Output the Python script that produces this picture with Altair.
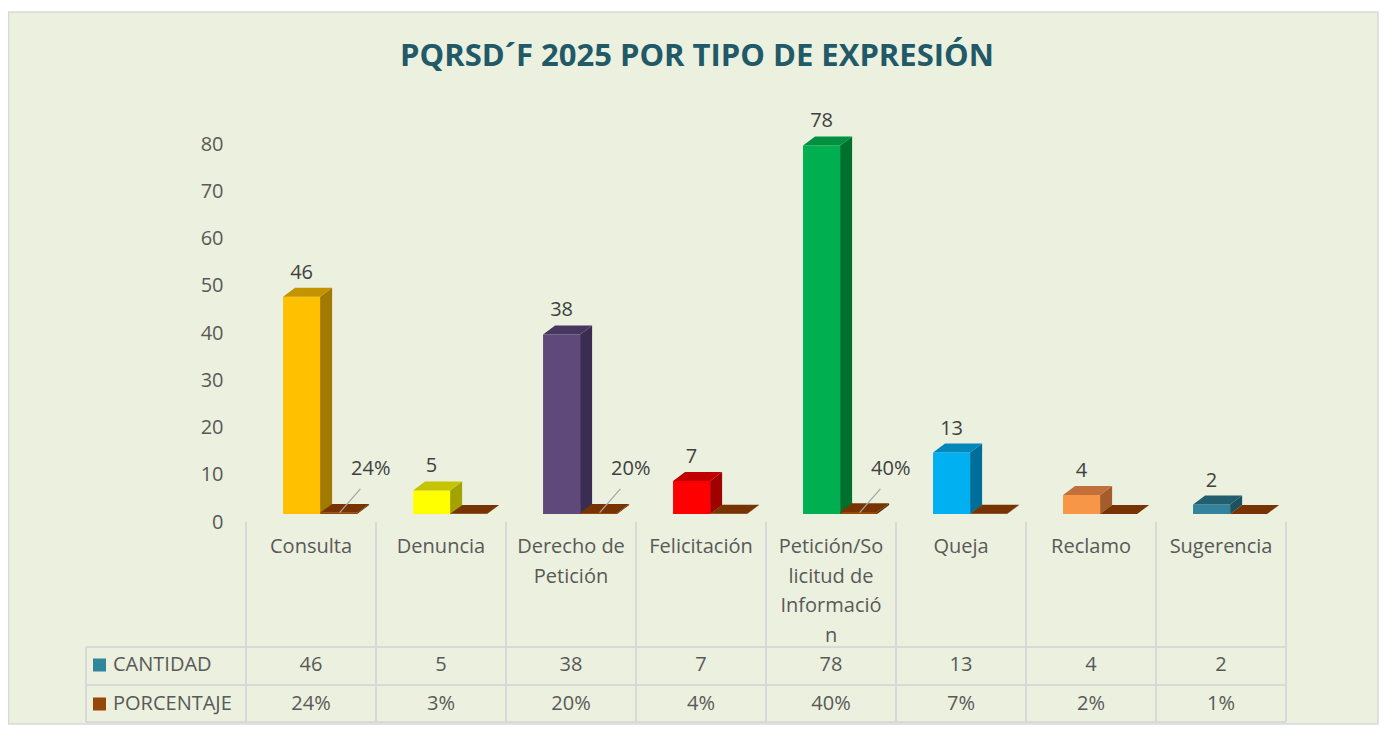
import altair as alt
import pandas as pd

# ---------------- data ----------------
categories = ["Consulta", "Denuncia", "Derecho de Petición", "Felicitación",
              "Petición/Solicitud de Información", "Queja", "Reclamo", "Sugerencia"]
axis_labels = ["Consulta", "Denuncia", "Derecho de\nPetición", "Felicitación",
               "Petición/So\nlicitud de\nInformació\nn", "Queja", "Reclamo", "Sugerencia"]
cantidad = [46, 5, 38, 7, 78, 13, 4, 2]
porcentaje = [24, 3, 20, 4, 40, 7, 2, 1]
series_names = ["CANTIDAD", "PORCENTAJE"]

front_colors = ["#FFC000", "#FFFF00", "#5F497A", "#FF0000", "#00B050", "#00B0F0", "#F79646", "#31849B"]
top_colors = ["#C49300", "#C4C400", "#463660", "#C00000", "#00903F", "#0088BC", "#C2703A", "#215F6E"]
side_colors = ["#A27A00", "#A3A300", "#3B2D52", "#A00000", "#00702F", "#006E9A", "#A35C2A", "#1C5260"]
pct_front, pct_top, pct_side = "#974706", "#783400", "#5E2A00"
legend_colors = ["#31859C", "#974706"]

BG = "#EBF1DE"
TXT = "#595959"
FONT = "Open Sans"
FS = 20

# ------------- geometry (category units / value units) -------------
X0, W = 0.285, 0.285          # bar front offset and width inside a category
DX, DY = 12 / 130, 1.9        # depth offset of the 3D faces

fronts, sides, tops, vlabels = [], [], [], []
for i in range(len(categories)):
    for s, (val, xs, fc, tc, sc) in enumerate([
        (cantidad[i], i + X0, front_colors[i], top_colors[i], side_colors[i]),
        (porcentaje[i] / 100, i + X0 + W, pct_front, pct_top, pct_side),
    ]):
        bid = f"{s}-{i}"
        fronts.append({"bid": bid, "x": xs, "x2": xs + W, "y": 0, "y2": val, "fill": fc})
        sides.append({"bid": bid, "x": xs + W, "lo": 0, "hi": val, "fill": sc})
        sides.append({"bid": bid, "x": xs + W + DX, "lo": DY, "hi": val + DY, "fill": sc})
        tops.append({"bid": bid, "y": val, "xl": xs, "xr": xs + W, "fill": tc})
        tops.append({"bid": bid, "y": val + DY, "xl": xs + DX, "xr": xs + W + DX, "fill": tc})
    vlabels.append({"x": i + X0 + W / 2, "y": cantidad[i], "t": str(cantidad[i])})

pct_lab = [{"x": i + 0.96, "y": 9.6, "lx": i + 0.72, "ly": 0.3, "lx2": i + 0.88, "ly2": 5.3,
            "t": f"{porcentaje[i]}%"} for i in range(len(categories)) if porcentaje[i] >= 20]

df_front = pd.DataFrame(fronts)
df_side = pd.DataFrame(sides)
df_top = pd.DataFrame(tops)
df_vlab = pd.DataFrame(vlabels)
df_plab = pd.DataFrame(pct_lab)
df_cat = pd.DataFrame({"x": [i + 0.5 for i in range(len(categories))], "lab": axis_labels,
                       "c": [str(v) for v in cantidad], "p": [f"{v}%" for v in porcentaje]})
df_vlines = pd.DataFrame({"x": list(range(len(categories) + 1))})
one = pd.DataFrame({"a": [0]})

XS = alt.Scale(domain=[0, 8], nice=False, zero=False)
YS = alt.Scale(domain=[0, 80], nice=False)
YAX = alt.Axis(values=list(range(0, 81, 10)), grid=False, domain=False, ticks=False,
               labelPadding=23, labelFontSize=FS, labelColor=TXT, labelFont=FONT,
               labelOffset=8, title=None, zindex=2)

# frame
frame = alt.Chart(one).mark_rect(fill=BG, stroke="#D9D9D9", strokeWidth=1.5).encode(
    x=alt.value(-237.5), x2=alt.value(1132), y=alt.value(-124), y2=alt.value(588))

front = alt.Chart(df_front).mark_rect().encode(
    x=alt.X("x:Q", scale=XS, axis=None), x2="x2:Q",
    y=alt.Y("y:Q", scale=YS, axis=YAX), y2="y2:Q",
    color=alt.Color("fill:N", scale=None))

side = alt.Chart(df_side).mark_area(orient="vertical").encode(
    x=alt.X("x:Q", scale=XS, axis=None),
    y=alt.Y("lo:Q", scale=YS, axis=YAX), y2="hi:Q",
    detail="bid:N", color=alt.Color("fill:N", scale=None))

top = alt.Chart(df_top).mark_area(orient="horizontal").encode(
    y=alt.Y("y:Q", scale=YS, axis=YAX),
    x=alt.X("xl:Q", scale=XS, axis=None), x2="xr:Q",
    detail="bid:N", color=alt.Color("fill:N", scale=None))

vlab = alt.Chart(df_vlab).mark_text(font=FONT, fontSize=FS, color="#404040", dy=-18,
                                    baseline="alphabetic").encode(
    x=alt.X("x:Q", scale=XS, axis=None), y=alt.Y("y:Q", scale=YS, axis=YAX), text="t:N")

leader = alt.Chart(df_plab).mark_rule(color="#A6A6A6", strokeWidth=1.2).encode(
    x=alt.X("lx:Q", scale=XS, axis=None), x2="lx2:Q",
    y=alt.Y("ly:Q", scale=YS, axis=YAX), y2="ly2:Q")

plab = alt.Chart(df_plab).mark_text(font=FONT, fontSize=FS, color="#404040", baseline="middle").encode(
    x=alt.X("x:Q", scale=XS, axis=None), y=alt.Y("y:Q", scale=YS, axis=YAX), text="t:N")

# data table
vl = alt.Chart(df_vlines).mark_rule(color="#D9D9D9", strokeWidth=2).encode(
    x=alt.X("x:Q", scale=XS, axis=None), y=alt.value(386), y2=alt.value(586))
hl = alt.layer(*[
    alt.Chart(one).mark_rule(color="#D9D9D9", strokeWidth=2).encode(
        x=alt.value(-160), x2=alt.value(1040), y=alt.value(yy))
    for yy in (511, 549, 586)
])
ll = alt.Chart(one).mark_rule(color="#D9D9D9", strokeWidth=2).encode(
    x=alt.value(-160), y=alt.value(511), y2=alt.value(586))

catlab = alt.Chart(df_cat).mark_text(font=FONT, fontSize=FS, color=TXT, baseline="top",
                                     lineBreak="\n", lineHeight=29.5).encode(
    x=alt.X("x:Q", scale=XS, axis=None), y=alt.value(401), text="lab:N")
crow = alt.Chart(df_cat).mark_text(font=FONT, fontSize=FS, color=TXT, baseline="middle").encode(
    x=alt.X("x:Q", scale=XS, axis=None), y=alt.value(529), text="c:N")
prow = alt.Chart(df_cat).mark_text(font=FONT, fontSize=FS, color=TXT, baseline="middle").encode(
    x=alt.X("x:Q", scale=XS, axis=None), y=alt.value(568), text="p:N")

legend_parts = []
for k, (nm, col, yy) in enumerate(zip(series_names, legend_colors, (529, 568))):
    legend_parts.append(alt.Chart(one).mark_rect(fill=col).encode(
        x=alt.value(-153), x2=alt.value(-140), y=alt.value(yy - 6.5), y2=alt.value(yy + 6.5)))
    legend_parts.append(alt.Chart(one).mark_text(font=FONT, fontSize=FS, color=TXT, align="left",
                                                 baseline="middle", text=nm).encode(
        x=alt.value(-133), y=alt.value(yy)))

title = alt.Chart(one).mark_text(font=FONT, fontSize=31, fontWeight="bold", color="#215968",
                                 align="center", baseline="middle",
                                 text="PQRSD´F 2025 POR TIPO DE EXPRESIÓN").encode(
    x=alt.value(451), y=alt.value(-79))

chart = alt.layer(
    frame, front, side, top, vlab, leader, plab, vl, hl, ll, catlab, crow, prow,
    *legend_parts, title
).properties(
    width=1040, height=378,
    autosize=alt.AutoSizeParams(type="none"),
    padding={"left": 238, "top": 128, "right": 93, "bottom": 211},
    background="white",
).configure_view(stroke=None)

chart.save("out.html", embed_options={"renderer": "svg", "actions": False})
